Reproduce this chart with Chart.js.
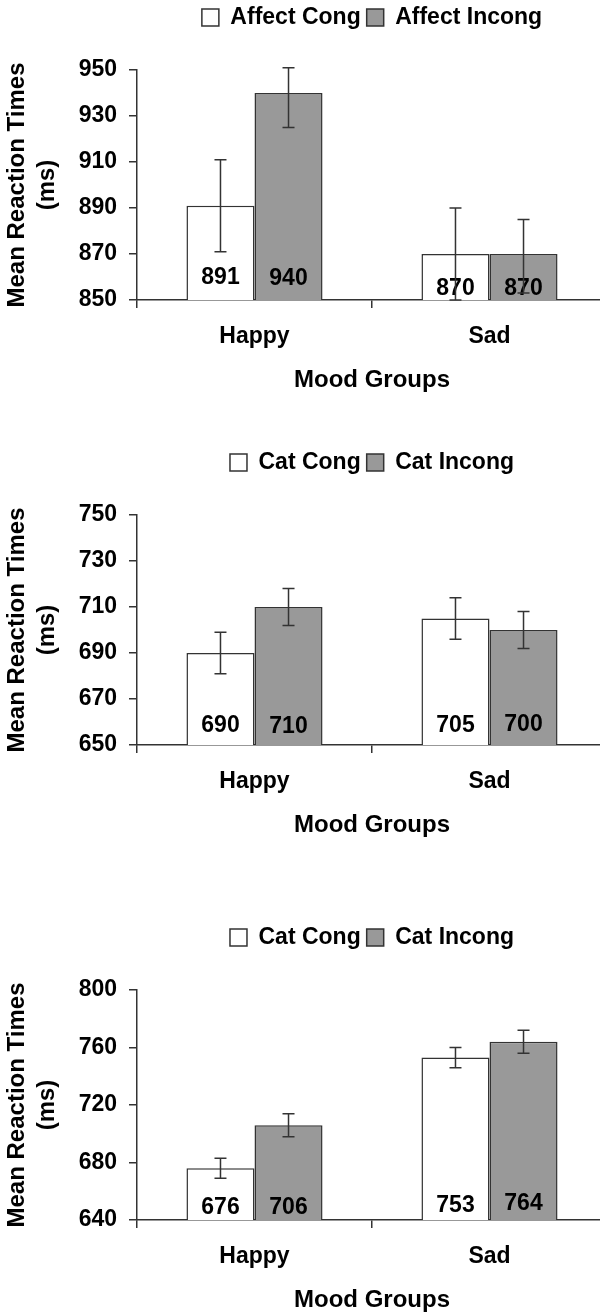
<!DOCTYPE html>
<html><head><meta charset="utf-8">
<script src="https://cdn.jsdelivr.net/npm/chart.js@4.4.0/dist/chart.umd.min.js"></script>
<style>
html,body{margin:0;padding:0;background:#fff;width:600px;height:1315px;overflow:hidden;position:relative}
canvas{position:absolute;left:0}
</style></head><body>
<canvas id="c1" width="607" height="400" style="top:0px;width:607px;height:400px"></canvas>
<canvas id="c2" width="607" height="400" style="top:445px;width:607px;height:400px"></canvas>
<canvas id="c3" width="607" height="400" style="top:920px;width:607px;height:400px"></canvas>
<script>
// ---- data ----
const categories = ['Happy', 'Sad'];
const seriesNames1 = ['Affect Cong', 'Affect Incong'];
const seriesNames2 = ['Cat Cong', 'Cat Incong'];
const seriesNames3 = ['Cat Cong', 'Cat Incong'];

// Chart 1
const affectCong = [891, 870];
const affectIncong = [940, 870];
const affectCongLow = [871, 850];
const affectCongHigh = [911, 890];
const affectIncongLow = [925, 853];
const affectIncongHigh = [951, 885];
const yTicks1 = [850, 870, 890, 910, 930, 950];

// Chart 2
const catCong2 = [690, 705];
const catIncong2 = [710, 700];
const catCong2Low = [681, 696];
const catCong2High = [699, 714];
const catIncong2Low = [702, 692];
const catIncong2High = [718, 708];
const yTicks2 = [650, 670, 690, 710, 730, 750];

// Chart 3
const catCong3 = [676, 753];
const catIncong3 = [706, 764];
const catCong3Low = [669, 746];
const catCong3High = [683, 760];
const catIncong3Low = [698, 756];
const catIncong3High = [714, 772];
const yTicks3 = [640, 680, 720, 760, 800];

// ---- style ----
const FONT = '"Liberation Sans", Arial, Helvetica, sans-serif';
Chart.defaults.font.family = FONT;
Chart.defaults.color = '#000';
const LINE = '#333';

const barExtras = {
  id: 'barExtras',
  afterDatasetsDraw(chart, args, opts) {
    const ctx = chart.ctx, y = chart.scales.y;
    const base = y.getPixelForValue(y.min);
    chart.data.datasets.forEach((ds, di) => {
      const meta = chart.getDatasetMeta(di);
      meta.data.forEach((bar, i) => {
        ctx.save();
        ctx.font = 'bold 23px ' + FONT;
        ctx.fillStyle = '#000';
        ctx.textAlign = 'center';
        ctx.textBaseline = 'middle';
        ctx.fillText(String(ds.data[i]), bar.x, base - opts.labelOffsets[di][i]);
        const yh = y.getPixelForValue(ds.errHigh[i]);
        const yl = y.getPixelForValue(ds.errLow[i]);
        ctx.strokeStyle = LINE;
        ctx.lineWidth = 1.5;
        ctx.beginPath();
        ctx.moveTo(bar.x, yh); ctx.lineTo(bar.x, yl);
        ctx.moveTo(bar.x - 6, yh); ctx.lineTo(bar.x + 6, yh);
        ctx.moveTo(bar.x - 6, yl); ctx.lineTo(bar.x + 6, yl);
        ctx.stroke();
        ctx.restore();
      });
    });
  }
};

function makeChart(id, names, cong, incong, congLow, congHigh, incongLow, incongHigh, ticks, labelOffsets) {
  const common = { borderColor: LINE, borderWidth: 1.5, categoryPercentage: 0.579, barPercentage: 1.0 };
  new Chart(document.getElementById(id), {
    type: 'bar',
    data: {
      labels: categories,
      datasets: [
        Object.assign({ label: names[0], data: cong, backgroundColor: '#ffffff', errLow: congLow, errHigh: congHigh }, common),
        Object.assign({ label: names[1], data: incong, backgroundColor: '#999999', errLow: incongLow, errHigh: incongHigh }, common)
      ]
    },
    options: {
      responsive: false,
      animation: false,
      devicePixelRatio: 1,
      layout: { padding: 0 },
      plugins: {
        legend: {
          position: 'top', fullSize: false,
          labels: { font: { size: 23, weight: 'bold' }, color: '#000', boxWidth: 17, boxHeight: 17, padding: 6 }
        },
        title: { display: true, text: ' ', weight: 500, font: { size: 10, lineHeight: 1 }, padding: { top: 0, bottom: 21 } },
        tooltip: { enabled: false },
        barExtras: { labelOffsets: labelOffsets }
      },
      scales: {
        x: {
          grid: { display: true, drawOnChartArea: false, drawTicks: true, tickLength: 8, color: LINE, lineWidth: 1.5, offset: true },
          border: { display: true, color: LINE, width: 1.5 },
          ticks: { font: { size: 23, weight: 'bold' }, color: '#000', padding: 15 },
          title: { display: true, text: 'Mood Groups', font: { size: 24, weight: 'bold', lineHeight: 1.2 }, color: '#000', padding: { top: 0, bottom: 5.6 } },
          afterFit: a => { a.height = 100; }
        },
        y: {
          min: ticks[0], max: ticks[ticks.length - 1],
          afterBuildTicks: a => { a.ticks = ticks.map(v => ({ value: v })); },
          ticks: { font: { size: 23, weight: 'bold' }, color: '#000', padding: 12 },
          grid: { display: true, drawOnChartArea: false, tickLength: 8, color: LINE, lineWidth: 1.5 },
          border: { display: true, color: LINE, width: 1.5 },
          title: { display: true, text: ['Mean Reaction Times', '(ms)'], font: { size: 24, weight: 'bold', lineHeight: 1.25 }, color: '#000', padding: { top: 2.5, bottom: 0 } },
          afterFit: a => { a.width = 137; }
        }
      }
    },
    plugins: [barExtras]
  });
}

makeChart('c1', seriesNames1, affectCong, affectIncong, affectCongLow, affectCongHigh, affectIncongLow, affectIncongHigh, yTicks1, [[22, 11], [21, 11]]);
makeChart('c2', seriesNames2, catCong2, catIncong2, catCong2Low, catCong2High, catIncong2Low, catIncong2High, yTicks2, [[19, 19], [18, 20]]);
makeChart('c3', seriesNames3, catCong3, catIncong3, catCong3Low, catCong3High, catIncong3Low, catIncong3High, yTicks3, [[12.5, 14], [12.5, 16]]);
</script>
</body></html>
